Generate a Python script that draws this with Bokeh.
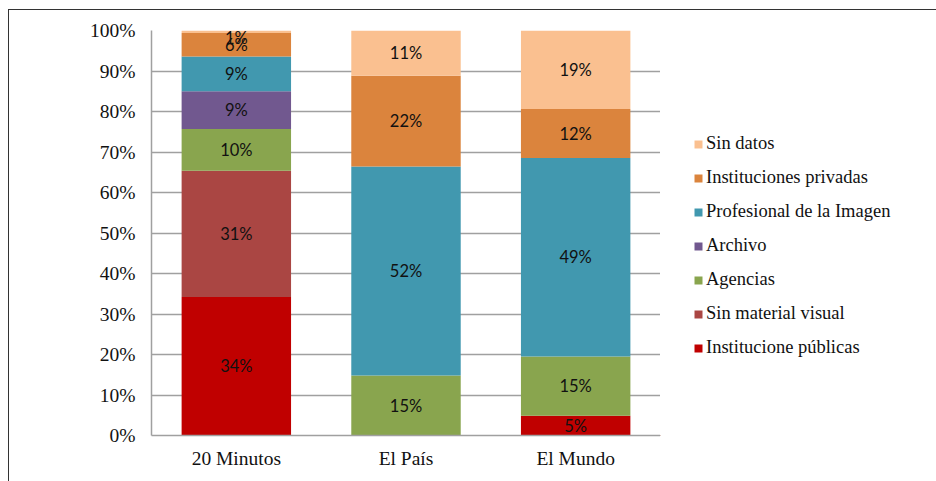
from bokeh.plotting import figure
from bokeh.layouts import row
from bokeh.models import ColumnDataSource, Legend, LegendItem, FactorRange, FixedTicker
from bokeh.embed import file_html
from bokeh.resources import INLINE
from bokeh.core.properties import value

newspapers = ["20 Minutos", "El País", "El Mundo"]
series = ["Institucione públicas", "Sin material visual", "Agencias", "Archivo",
          "Profesional de la Imagen", "Instituciones privadas", "Sin datos"]
publicas = [34.2, 0.0, 4.9]
sin_material = [31.2, 0.0, 0.0]
agencias = [10.3, 14.8, 14.6]
archivo = [9.3, 0.0, 0.0]
profesional = [8.6, 51.6, 49.0]
privadas = [5.8, 22.4, 12.1]
sin_datos = [0.6, 11.2, 19.4]
colors = ["#C00000", "#AA4643", "#89A54E", "#71588F", "#4198AF", "#DB843D", "#FAC090"]
y_ticks = [0, 10, 20, 30, 40, 50, 60, 70, 80, 90, 100]

keys = ["s%d" % i for i in range(len(series))]
values = [publicas, sin_material, agencias, archivo, profesional, privadas, sin_datos]
data = {"x": newspapers}
for k, v in zip(keys, values):
    data[k] = v
source = ColumnDataSource(data)

p = figure(x_range=FactorRange(*newspapers, range_padding=0), y_range=(0, 100),
           width=651, height=471, output_backend="svg", toolbar_location=None,
           min_border_left=142, min_border_right=0, min_border_top=20, min_border_bottom=46)
p.outline_line_color = None

renderers = p.vbar_stack(keys, x="x", width=0.645, color=colors, source=source,
                         line_color=None)

# labels (kept inside the plot area like the original, clamped near the top)
lx, ly, lt = [], [], []
for j, name in enumerate(newspapers):
    bottom = 0.0
    for v in values:
        val = v[j]
        if val > 0:
            lx.append(name)
            ly.append(min(bottom + val / 2, 98.2))
            lt.append("%d%%" % round(val))
        bottom += val
p.text(x=lx, y=ly, text=lt, text_align="center", text_baseline="middle",
       text_font=value("Lato"), text_font_size="16.5px", text_color="#111111")

p.yaxis.ticker = FixedTicker(ticks=y_ticks)
p.yaxis.major_label_overrides = {t: "%d%%" % t for t in y_ticks}
for ax in (p.xaxis, p.yaxis):
    ax.axis_line_color = "#A0A0A0"
    ax.axis_line_width = 1.5
    ax.major_tick_line_color = None
    ax.minor_tick_line_color = None
    ax.major_tick_out = 0
    ax.major_tick_in = 0
    ax.major_label_text_font = "Liberation Serif"
    ax.major_label_text_font_size = "19.5px"
    ax.major_label_text_color = "#111111"
p.yaxis.major_label_standoff = 16
p.xaxis.major_label_standoff = 12
p.xgrid.grid_line_color = None
p.ygrid.ticker = FixedTicker(ticks=y_ticks)
p.ygrid.grid_line_color = "#A0A0A0"
p.ygrid.grid_line_width = 1.5

# legend panel
q = figure(width=276, height=471, output_backend="svg", toolbar_location=None,
           x_range=(0, 1), y_range=(0, 1),
           min_border=0, min_border_left=0, min_border_right=0,
           min_border_top=0, min_border_bottom=0)
q.axis.visible = False
q.grid.visible = False
q.outline_line_color = None
leg_renderers = [q.vbar(x=[-5], top=[-5], bottom=[-5], width=0.1, color=c, line_color=None)
                 for c in colors]
items = [LegendItem(label=series[i], renderers=[leg_renderers[i]])
         for i in reversed(range(len(series)))]
legend = Legend(items=items, location=(33, 77), padding=0, margin=0,
                border_line_alpha=0, background_fill_alpha=0,
                glyph_width=10, glyph_height=10, label_height=20, spacing=13,
                label_standoff=3, label_text_font="Liberation Serif",
                label_text_font_size="18.5px", label_text_color="#111111")
q.add_layout(legend, "center")

layout = row(p, q)
layout.styles = {"margin-left": "8px", "margin-top": "9px",
                 "border-top": "1.5px solid #333333", "border-left": "1.5px solid #333333"}

open("out.html", "w").write(file_html(layout, INLINE))
